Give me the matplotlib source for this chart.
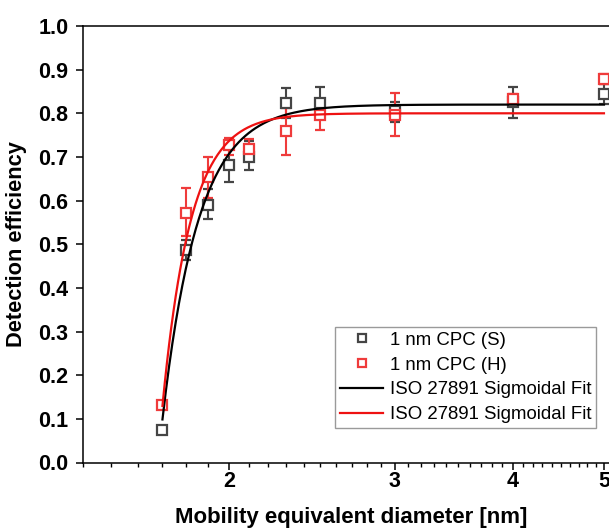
import numpy as np
import matplotlib
matplotlib.use("Agg")
import matplotlib.pyplot as plt
from matplotlib.ticker import FixedLocator, FixedFormatter, NullFormatter
from matplotlib.lines import Line2D

plt.rcParams['font.family'] = ['Liberation Sans', 'DejaVu Sans']

# ---- data ----
diam = [1.7, 1.8, 1.9, 2.0, 2.1, 2.3, 2.5, 3.0, 4.0, 5.0]

eff_s = [0.074, 0.487, 0.591, 0.682, 0.700, 0.824, 0.824, 0.805, 0.827, 0.845]
eff_s_lo = [0.070, 0.465, 0.557, 0.642, 0.671, 0.789, 0.793, 0.780, 0.790, 0.822]
eff_s_hi = [0.078, 0.509, 0.626, 0.720, 0.736, 0.859, 0.860, 0.825, 0.860, 0.868]

eff_h = [0.132, 0.572, 0.653, 0.727, 0.718, 0.760, 0.795, 0.797, 0.833, 0.878]
eff_h_lo = [0.128, 0.518, 0.607, 0.704, 0.693, 0.705, 0.762, 0.747, 0.820, 0.866]
eff_h_hi = [0.136, 0.628, 0.699, 0.744, 0.741, 0.812, 0.822, 0.846, 0.845, 0.890]

# sigmoidal fit parameters (plateau, cut-on diameter, steepness)
fit_s = (0.82, 1.681, 11.4)
fit_h = (0.80, 1.6794, 14.5)

x_major = [2, 3, 4, 5]
x_major_labels = ['2', '3', '4', '5']
y_ticks = [0.0, 0.1, 0.2, 0.3, 0.4, 0.5, 0.6, 0.7, 0.8, 0.9, 1.0]
y_tick_labels = ['0.0', '0.1', '0.2', '0.3', '0.4', '0.5', '0.6', '0.7', '0.8', '0.9', '1.0']

labels = ['1 nm CPC (S)', '1 nm CPC (H)', 'ISO 27891 Sigmoidal Fit', 'ISO 27891 Sigmoidal Fit']

gray = '#454545'
red = '#ef3b3b'
red_line = '#ee1111'


def fit_curve(d, params):
    a, d0, k = params
    return a * (1.0 - (d / d0) ** (-k))


fig = plt.figure(figsize=(6.09, 5.29), dpi=100)
ax = fig.add_axes([83 / 609, 1 - 462.5 / 529, (620 - 83) / 609, 436.5 / 529])

ys = np.asarray(eff_s)
yerr_s = [ys - np.asarray(eff_s_lo), np.asarray(eff_s_hi) - ys]
yh = np.asarray(eff_h)
yerr_h = [yh - np.asarray(eff_h_lo), np.asarray(eff_h_hi) - yh]

ax.errorbar(diam, eff_s, yerr=yerr_s, fmt='s', ms=6.5, mfc='white', mec=gray,
            mew=1.6, ecolor=gray, elinewidth=1.5, capsize=3.3, capthick=1.5,
            color=gray, zorder=3)
ax.errorbar(diam, eff_h, yerr=yerr_h, fmt='s', ms=6.5, mfc='white', mec=red,
            mew=1.6, ecolor=red, elinewidth=1.5, capsize=3.3, capthick=1.5,
            color=red, zorder=3)

dd = np.geomspace(diam[0], diam[-1], 400)
l1, = ax.plot(dd, fit_curve(dd, fit_s), color='black', lw=1.6, zorder=4)
l2, = ax.plot(dd, fit_curve(dd, fit_h), color=red_line, lw=1.6, zorder=4)

ax.set_xscale('log')
ax.set_xlim(1.4, 5.2)
ax.set_ylim(0, 1.0)

ax.xaxis.set_major_locator(FixedLocator(x_major))
ax.xaxis.set_major_formatter(FixedFormatter(x_major_labels))
minor = [v / 10 for v in range(14, 53) if v % 10 != 0]
ax.xaxis.set_minor_locator(FixedLocator(minor))
ax.xaxis.set_minor_formatter(NullFormatter())
ax.set_yticks(y_ticks)
ax.set_yticklabels(y_tick_labels)

ax.tick_params(axis='both', which='major', length=5, width=1.1, direction='out',
               labelsize=15.5)
ax.tick_params(axis='x', which='major', pad=1)
ax.tick_params(axis='y', which='major', pad=5.5)
ax.tick_params(axis='x', which='minor', length=3, width=1.0, direction='out')
for lab in ax.get_xticklabels() + ax.get_yticklabels():
    lab.set_fontweight('bold')
for sp in ax.spines.values():
    sp.set_linewidth(1.1)

ax.set_xlabel('Mobility equivalent diameter [nm]', fontsize=16, fontweight='bold', labelpad=11)
ax.set_ylabel('Detection efficiency', fontsize=15.7, fontweight='bold', labelpad=8)

hs = Line2D([], [], ls='none', marker='s', ms=5.5, mfc='white', mec=gray, mew=1.6)
hh = Line2D([], [], ls='none', marker='s', ms=5.5, mfc='white', mec=red, mew=1.6)
leg = ax.legend([hs, hh, l1, l2], labels, loc='upper left',
                bbox_to_anchor=(335 / 609, 1 - 327 / 529), bbox_transform=fig.transFigure,
                fontsize=13.4, frameon=True, fancybox=False, framealpha=1,
                edgecolor='#9a9a9a', borderpad=0.25, labelspacing=0.42,
                handlelength=2.35, handletextpad=0.35, borderaxespad=0)
leg.get_frame().set_linewidth(1.0)

fig.savefig('out.png', dpi=100)
